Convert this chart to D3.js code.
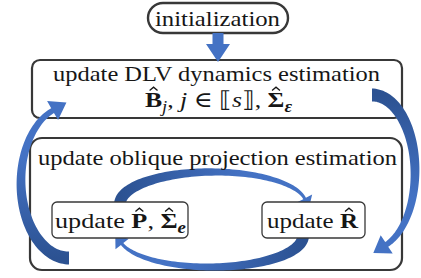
<!DOCTYPE html>
<html>
<head>
<meta charset="utf-8">
<script src="https://cdn.jsdelivr.net/npm/d3@7"></script>
<style>
  html, body { margin: 0; padding: 0; background: #fff; }
  svg { display: block; }
</style>
</head>
<body>
<div id="chart"></div>
<script>
// Diagram content: the steps and the estimates updated in each step
// "^" = bold with hat, "_" = italic subscript, "=" = bold italic subscript, "$" = italic
var stepNames = ["init", "dlv", "proj", "P", "R"];
var initLabel = ["initialization"];
var dlvLabel = ["update DLV dynamics estimation"];
var dlvMath = ["^B", "_j", ", ", "$j", " ∈ ⟦", "$s", "⟧, ", "^Σ", "=ε"];
var projLabel = ["update oblique projection estimation"];
var pLabel = ["update ", "^P", ", ", "^Σ", "=e"];
var rLabel = ["update ", "^R"];
// arrows between steps: [from, to]
var edges = [["init", "dlv"], ["proj", "dlv"], ["dlv", "proj"], ["P", "R"], ["R", "P"]];

var width = 421, height = 278;
var ink = "#383838";
var serif = "'Liberation Serif', 'DejaVu Serif', serif";
var lightBlue = "#4472c4", darkBlue = "#2c5292";

var svg = d3.select("#chart").append("svg")
  .attr("width", width)
  .attr("height", height);
var defs = svg.append("defs");

// box layout
var boxes = {
  init: { x: 148, y: 3, w: 140, h: 30, r: 15, sw: 2.4 },
  dlv:  { x: 32, y: 60, w: 370, h: 58, r: 8, sw: 2.2 },
  proj: { x: 30, y: 138, w: 372, h: 132, r: 12, sw: 2.2 },
  P:    { x: 52, y: 202, w: 136, h: 36, r: 5, sw: 1.3 },
  R:    { x: 262, y: 202, w: 103, h: 36, r: 5, sw: 1.3 }
};

// curved arrow geometry (elliptical arcs), keyed by edge
var arcs = {
  "proj-dlv": { cx: 69, cy: 182, rx: 48, ry: 76, from: 90, to: 250, tailW: 13, neckW: 5.5, headW: 22, headL: 16 },
  "dlv-proj": { cx: 372, cy: 172, rx: 43, ry: 77, from: 270, to: 430, tailW: 13, neckW: 5.5, headW: 22, headL: 16 },
  "P-R":      { cx: 213, cy: 204, rx: 93, ry: 32, from: 180, to: 350, tailW: 12, neckW: 3, headW: 17, headL: 10 },
  "R-P":      { cx: 211, cy: 236, rx: 92, ry: 31, from: 0, to: 165, tailW: 12, neckW: 3, headW: 17, headL: 11 }
};

function drawBox(key) {
  var b = boxes[key];
  svg.append("rect")
    .attr("x", b.x).attr("y", b.y)
    .attr("width", b.w).attr("height", b.h)
    .attr("rx", b.r).attr("ry", b.r)
    .attr("fill", "#fff")
    .attr("stroke", ink)
    .attr("stroke-width", b.sw);
}

// tapered band along an ellipse, with a triangular head at the end
function arrowShape(a) {
  var n = 80;
  var ang = d3.scaleLinear().domain([0, n]).range([a.from * Math.PI / 180, a.to * Math.PI / 180]);
  var wid = d3.scaleLinear().domain([0, n]).range([a.tailW, a.neckW]);
  var dir = a.to > a.from ? 1 : -1;
  var left = [], right = [], end;
  for (var i = 0; i <= n; i++) {
    var t = ang(i);
    var x = a.cx + a.rx * Math.cos(t), y = a.cy + a.ry * Math.sin(t);
    var tx = -a.rx * Math.sin(t) * dir, ty = a.ry * Math.cos(t) * dir;
    var L = Math.hypot(tx, ty);
    tx /= L; ty /= L;
    var nx = -ty, ny = tx, w = wid(i) / 2;
    left.push([x + nx * w, y + ny * w]);
    right.push([x - nx * w, y - ny * w]);
    end = { x: x, y: y, tx: tx, ty: ty, nx: nx, ny: ny };
  }
  var head = [
    [end.x + end.nx * a.headW / 2, end.y + end.ny * a.headW / 2],
    [end.x + end.tx * a.headL, end.y + end.ty * a.headL],
    [end.x - end.nx * a.headW / 2, end.y - end.ny * a.headW / 2]
  ];
  var t0 = ang(0);
  return {
    points: left.concat(head, right.reverse()),
    tail: [a.cx + a.rx * Math.cos(t0), a.cy + a.ry * Math.sin(t0)],
    tip: head[1]
  };
}

function drawArc(key) {
  var shape = arrowShape(arcs[key]);
  var id = "grad-" + key;
  var grad = defs.append("linearGradient")
    .attr("id", id)
    .attr("gradientUnits", "userSpaceOnUse")
    .attr("x1", shape.tail[0]).attr("y1", shape.tail[1])
    .attr("x2", shape.tip[0]).attr("y2", shape.tip[1]);
  grad.append("stop").attr("offset", "0%").attr("stop-color", darkBlue);
  grad.append("stop").attr("offset", "65%").attr("stop-color", lightBlue);
  grad.append("stop").attr("offset", "100%").attr("stop-color", lightBlue);
  svg.append("path")
    .attr("d", d3.line()(shape.points) + "Z")
    .attr("fill", "url(#" + id + ")");
}

// text with bold hatted symbols and subscripts, stretched to a given width
function mathText(tokens, x0, baseline, w, fs) {
  var g = svg.append("g");
  var text = g.append("text")
    .attr("x", x0).attr("y", baseline)
    .attr("font-family", serif)
    .attr("font-size", fs)
    .attr("fill", "#161616");
  var shift = 0, idx = 0, hats = [];
  tokens.forEach(function(tok) {
    var kind = "", s = tok;
    if (tok.length > 1 && "^_=$".indexOf(tok[0]) >= 0) { kind = tok[0]; s = tok.slice(1); }
    var sub = kind === "_" || kind === "=";
    var target = sub ? fs * 0.22 : 0;
    var ts = text.append("tspan").text(s).attr("dy", target - shift);
    shift = target;
    if (sub) ts.attr("font-size", fs * 0.72);
    if (kind === "^" || kind === "=") ts.attr("font-weight", "bold");
    if (kind === "_" || kind === "=" || kind === "$") ts.attr("font-style", "italic");
    if (kind === "^") hats.push(idx);
    idx += s.length;
  });
  text.attr("textLength", w).attr("lengthAdjust", "spacingAndGlyphs");
  hats.forEach(function(i) {
    var box = text.node().getExtentOfChar(i);
    var hx = box.x + box.width / 2, hy = baseline - fs * 0.75;
    g.append("path")
      .attr("d", d3.line()([[hx - fs * 0.18, hy], [hx, hy - fs * 0.15], [hx + fs * 0.18, hy]]))
      .attr("fill", "none")
      .attr("stroke", "#161616")
      .attr("stroke-width", 1.3);
  });
}

// boxes that sit under the curved arrows
drawBox("dlv");
drawBox("proj");
drawBox("init");

// inner loop arrows pass under the small boxes
edges.filter(function(e) { return e[0] === "P" || e[0] === "R"; })
  .forEach(function(e) { drawArc(e[0] + "-" + e[1]); });
drawBox("P");
drawBox("R");

// outer loop arrows
edges.filter(function(e) { return e[0] === "proj" || e[0] === "dlv"; })
  .forEach(function(e) { drawArc(e[0] + "-" + e[1]); });

// straight block arrow from initialization
var from = boxes[edges[0][0]], to = boxes[edges[0][1]];
var ax = from.x + from.w / 2, ay0 = from.y + from.h, ay1 = to.y + 2;
var shaft = 5.5, wing = 12, headL = 18;
svg.append("path")
  .attr("d", d3.line()([
    [ax - shaft, ay0], [ax + shaft, ay0], [ax + shaft, ay1 - headL], [ax + wing, ay1 - headL],
    [ax, ay1], [ax - wing, ay1 - headL], [ax - shaft, ay1 - headL]
  ]) + "Z")
  .attr("fill", lightBlue);

// labels
var fs = 22;
mathText(initLabel, 155, 26, 125, fs);
mathText(dlvLabel, 53, 81, 327, fs);
mathText(dlvMath, 145, 107, 147, fs);
mathText(projLabel, 38, 165, 359, fs);
mathText(pLabel, 55, 228, 131, fs);
mathText(rLabel, 267, 228, 91, fs);
</script>
</body>
</html>
